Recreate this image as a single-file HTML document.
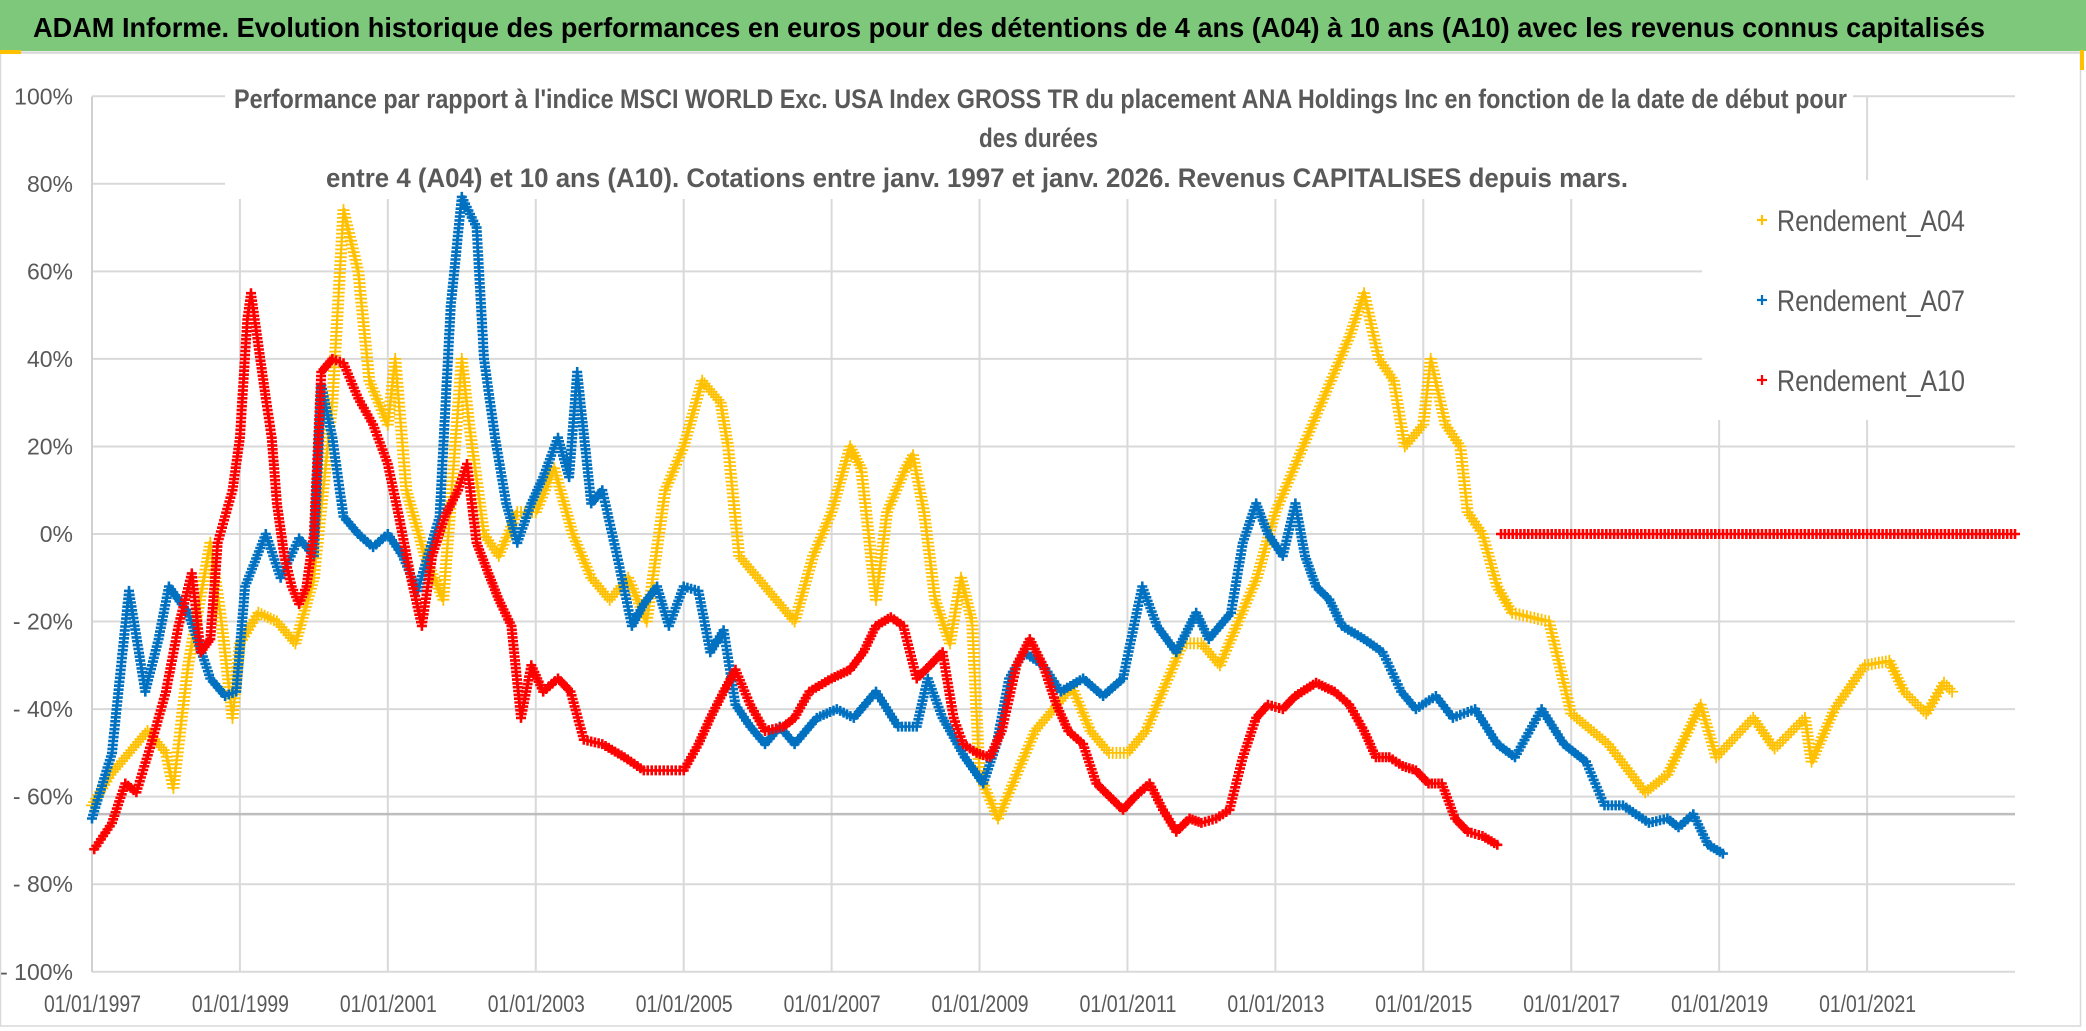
<!DOCTYPE html>
<html><head><meta charset="utf-8"><style>
html,body{margin:0;padding:0;background:#fff;}
svg{display:block;font-family:"Liberation Sans",sans-serif;}
</style></head><body>
<svg id="chart" width="2086" height="1031" viewBox="0 0 2086 1031" xmlns="http://www.w3.org/2000/svg">
<rect x="0" y="0" width="2086" height="1031" fill="#ffffff"/>
<rect x="0" y="0" width="2086" height="51" fill="#7ec87b"/>
<line x1="0" y1="52.5" x2="2080" y2="52.5" stroke="#d0d0d0" stroke-width="2"/>
<text x="33" y="37" font-size="28" font-weight="bold" fill="#000" textLength="1952" lengthAdjust="spacingAndGlyphs">ADAM Informe. Evolution historique des performances en euros pour des détentions de 4 ans (A04) à 10 ans (A10) avec les revenus connus capitalisés</text>
<rect x="0.5" y="53" width="2080" height="973" fill="none" stroke="#d9d9d9" stroke-width="1.5"/>
<rect x="0" y="50" width="21" height="4" fill="#ffc000"/>
<rect x="2080" y="50" width="4" height="20" fill="#ffc000"/>
<g id="grid"></g>
<rect x="225" y="58" width="1628" height="141" fill="#fff"/>
<rect x="1702" y="180" width="313" height="240" fill="#fff"/>
<line id="refline" x1="92" x2="2015" stroke="#bdbdbd" stroke-width="2.5"/>
<g id="yaxis"></g>
<g id="xaxis"></g>
<g id="series"></g>
<g fill="#595959" font-size="27" font-weight="bold">
<text x="234" y="108" textLength="1613" lengthAdjust="spacingAndGlyphs">Performance par rapport à l'indice MSCI WORLD Exc. USA Index GROSS TR  du placement ANA Holdings Inc en fonction de la date de début pour</text>
<text x="979" y="147" textLength="119" lengthAdjust="spacingAndGlyphs">des durées</text>
<text x="326" y="187" textLength="1302" lengthAdjust="spacingAndGlyphs">entre 4 (A04) et 10 ans (A10). Cotations entre janv. 1997 et janv. 2026. Revenus CAPITALISES depuis mars.</text>
</g>
<g id="legend"></g>
</svg>
<script>
const yTicks=[100,80,60,40,20,0,-20,-40,-60,-80,-100];
const xTickYears=[1997,1999,2001,2003,2005,2007,2009,2011,2013,2015,2017,2019,2021];
const xTickLabels=["01/01/1997","01/01/1999","01/01/2001","01/01/2003","01/01/2005","01/01/2007","01/01/2009","01/01/2011","01/01/2013","01/01/2015","01/01/2017","01/01/2019","01/01/2021"];
const seriesNames=["Rendement_A04","Rendement_A07","Rendement_A10"];
const refLineValue=-64;

const a04Years=[1997.0,1997.25,1997.5,1997.75,1998.0,1998.1,1998.3,1998.6,1998.75,1998.9,1999.0,1999.25,1999.5,1999.75,2000.0,2000.25,2000.4,2000.6,2000.75,2001.0,2001.1,2001.25,2001.5,2001.75,2002.0,2002.1,2002.3,2002.5,2002.75,2003.0,2003.25,2003.5,2003.75,2004.0,2004.25,2004.5,2004.75,2005.0,2005.25,2005.5,2005.6,2005.75,2006.0,2006.25,2006.5,2006.75,2007.0,2007.25,2007.4,2007.5,2007.6,2007.75,2008.0,2008.1,2008.25,2008.4,2008.6,2008.75,2008.9,2009.0,2009.25,2009.5,2009.75,2010.0,2010.25,2010.5,2010.75,2011.0,2011.25,2011.5,2011.75,2012.0,2012.25,2012.5,2012.75,2013.0,2013.25,2013.5,2013.75,2014.0,2014.2,2014.4,2014.6,2014.75,2015.0,2015.1,2015.3,2015.5,2015.6,2015.8,2016.0,2016.2,2016.7,2017.0,2017.5,2018.0,2018.3,2018.75,2018.96,2019.46,2019.75,2020.16,2020.25,2020.56,2020.97,2021.3,2021.5,2021.8,2022.04,2022.15];
const a04Values=[-62,-55,-50,-45,-50,-58,-30,-2,-20,-42,-25,-18,-20,-25,-10,30,74,60,35,25,40,10,-5,-15,40,25,0,-5,5,5,15,0,-10,-15,-10,-20,10,20,35,30,20,-5,-10,-15,-20,-5,5,20,15,0,-15,5,15,18,5,-15,-25,-10,-20,-55,-65,-55,-45,-40,-35,-45,-50,-50,-45,-35,-25,-25,-30,-20,-10,5,15,25,35,45,55,40,35,20,25,40,25,20,5,0,-12,-18,-20,-41,-48,-59,-55,-39,-51,-42,-49,-42,-52,-40,-30,-29,-36,-41,-34,-36];

const a07Years=[1997.0,1997.27,1997.5,1997.72,1997.9,1998.04,1998.3,1998.6,1998.8,1998.95,1999.07,1999.35,1999.55,1999.8,2000.0,2000.1,2000.25,2000.4,2000.6,2000.8,2001.0,2001.2,2001.4,2001.7,2001.85,2002.0,2002.2,2002.3,2002.45,2002.6,2002.75,2002.94,2003.1,2003.3,2003.45,2003.56,2003.75,2003.9,2004.1,2004.3,2004.46,2004.64,2004.8,2005.0,2005.2,2005.36,2005.54,2005.7,2005.9,2006.1,2006.3,2006.5,2006.8,2007.07,2007.3,2007.6,2007.9,2008.15,2008.3,2008.5,2008.8,2009.05,2009.23,2009.4,2009.6,2009.86,2010.1,2010.4,2010.67,2010.94,2011.2,2011.4,2011.66,2011.93,2012.1,2012.4,2012.56,2012.74,2012.9,2013.1,2013.27,2013.4,2013.55,2013.73,2013.9,2014.2,2014.45,2014.7,2014.9,2015.17,2015.4,2015.7,2016.0,2016.24,2016.6,2016.9,2017.2,2017.45,2017.7,2018.05,2018.3,2018.45,2018.65,2018.85,2019.05];
const a07Values=[-65,-50,-13,-36,-24,-12,-18,-33,-37,-36,-12,0,-10,-1,-5,34,22,4,0,-3,0,-5,-13,4,52,77,70,40,22,7,-2,7,13,22,13,37,7,10,-5,-21,-16,-12,-21,-12,-13,-27,-22,-39,-44,-48,-44,-48,-42,-40,-42,-36,-44,-44,-33,-42,-51,-57,-48,-33,-27,-30,-36,-33,-37,-33,-12,-21,-27,-18,-24,-18,-2,7,0,-5,7,-5,-12,-15,-21,-24,-27,-36,-40,-37,-42,-40,-48,-51,-40,-48,-52,-62,-62,-66,-65,-67,-64,-71,-73];

const a10Years=[1997.03,1997.27,1997.45,1997.6,1997.8,1998.0,1998.17,1998.35,1998.47,1998.6,1998.7,1998.9,1999.0,1999.1,1999.15,1999.25,1999.35,1999.43,1999.5,1999.6,1999.7,1999.8,1999.9,2000.0,2000.1,2000.25,2000.4,2000.6,2000.8,2001.0,2001.15,2001.3,2001.46,2001.6,2001.77,2001.95,2002.07,2002.2,2002.36,2002.5,2002.67,2002.8,2002.94,2003.1,2003.3,2003.47,2003.65,2003.9,2004.2,2004.46,2004.73,2005.0,2005.2,2005.36,2005.54,2005.7,2005.9,2006.1,2006.35,2006.5,2006.7,2007.0,2007.25,2007.43,2007.6,2007.8,2007.97,2008.15,2008.33,2008.5,2008.65,2008.78,2008.96,2009.14,2009.3,2009.5,2009.68,2009.86,2010.04,2010.2,2010.4,2010.58,2010.76,2010.94,2011.1,2011.3,2011.48,2011.66,2011.84,2012.0,2012.2,2012.38,2012.56,2012.74,2012.9,2013.1,2013.27,2013.55,2013.8,2014.0,2014.2,2014.36,2014.54,2014.72,2014.9,2015.07,2015.25,2015.43,2015.6,2015.8,2016.0];
const a10Values=[-72,-66,-57,-59,-48,-36,-21,-9,-27,-24,-2,10,22,49,55,43,31,22,7,-5,-12,-16,-12,0,37,40,39,31,25,16,4,-9,-21,-5,4,10,16,-2,-9,-15,-21,-42,-30,-36,-33,-36,-47,-48,-51,-54,-54,-54,-48,-42,-36,-31,-39,-45,-44,-42,-36,-33,-31,-27,-21,-19,-21,-33,-30,-27,-42,-48,-50,-51,-45,-30,-24,-30,-39,-45,-48,-57,-60,-63,-60,-57,-63,-68,-65,-66,-65,-63,-51,-42,-39,-40,-37,-34,-36,-39,-45,-51,-51,-53,-54,-57,-57,-65,-68,-69,-71];
const a10ZeroYears=[2016.05,2017,2018,2019,2020,2021,2022,2023];
const a10ZeroValues=[0,0,0,0,0,0,0,0];

const NS="http://www.w3.org/2000/svg";
const X0=92,X1=2015,Y_TOP=96.5,Y_BOT=972;
const xMin=1997,xMax=2023;
function xs(yr){return X0+(yr-xMin)/(xMax-xMin)*(X1-X0);}
function ys(v){return 534-v*(Y_BOT-Y_TOP)/200;}
function mk(tag,attrs,parent){const e=document.createElementNS(NS,tag);for(const k in attrs)e.setAttribute(k,attrs[k]);parent.appendChild(e);return e;}

const grid=document.getElementById('grid');
yTicks.forEach(v=>{
  const l=mk('line',{x1:X0,x2:X1,y1:ys(v),y2:ys(v),stroke:'#d9d9d9','stroke-width':2},grid);
  
  
});
xTickYears.forEach(yr=>{
  const l=mk('line',{x1:xs(yr),x2:xs(yr),y1:Y_TOP,y2:Y_BOT,stroke:'#d9d9d9','stroke-width':2},grid);
  
  
});
mk('line',{x1:X0,x2:X0,y1:Y_TOP,y2:Y_BOT,stroke:'#d0d0d0','stroke-width':2},grid);
const rl=document.getElementById('refline');
rl.setAttribute('y1',ys(refLineValue));rl.setAttribute('y2',ys(refLineValue));

const ya=document.getElementById('yaxis');
yTicks.forEach(v=>{
  const t=mk('text',{x:73,y:ys(v)+8,'text-anchor':'end','font-size':23,fill:'#595959'},ya);
  t.textContent=v<0?('- '+(-v)+'%'):(v+'%');
  
  
});
const xa=document.getElementById('xaxis');
xTickYears.forEach((yr,i)=>{
  const t=mk('text',{x:xs(yr)-48,y:1012,'font-size':24,fill:'#595959',textLength:97,lengthAdjust:'spacingAndGlyphs'},xa);
  t.textContent=xTickLabels[i];
  
  
});

function drawSeries(years,vals,color,half,sw,name){
  const g=mk('g',{stroke:color,'stroke-width':sw,fill:'none'},document.getElementById('series'));
  
  
  let d='';
  const plus=(x,y)=>{d+='M'+(x-half).toFixed(1)+' '+y.toFixed(1)+'h'+(2*half)+'M'+x.toFixed(1)+' '+(y-half).toFixed(1)+'v'+(2*half);};
  for(let i=0;i<years.length;i++){
    const x=xs(years[i]),y=ys(vals[i]);
    plus(x,y);
    if(i<years.length-1){
      const x2=xs(years[i+1]),y2=ys(vals[i+1]);
      const n=Math.max(1,Math.ceil(Math.hypot(x2-x,y2-y)/4));
      for(let k=1;k<n;k++){plus(x+(x2-x)*k/n,y+(y2-y)*k/n);}
    }
  }
  mk('path',{d:d},g);
}
drawSeries(a04Years,a04Values,'#ffc000',6,1.8,'series-a04');
drawSeries(a07Years,a07Values,'#0070c0',5,2.6,'series-a07');
drawSeries(a10Years,a10Values,'#ff0000',5,2.6,'series-a10');
drawSeries(a10ZeroYears,a10ZeroValues,'#ff0000',5,2.6,'series-a10-flat');

const lg=document.getElementById('legend');
const lc=['#ffc000','#0070c0','#ff0000'];
seriesNames.forEach((n,i)=>{
  const y=220+i*80;
  const e=mk('g',{},lg);
  
  
  mk('path',{d:'M1757 '+y+'h10M1762 '+(y-5)+'v10',stroke:lc[i],'stroke-width':2.2},e);
  const t=mk('text',{x:1777,y:y+11,'font-size':30,fill:'#595959',textLength:188,lengthAdjust:'spacingAndGlyphs'},e);
  t.textContent=n;
});
</script>
</body></html>
